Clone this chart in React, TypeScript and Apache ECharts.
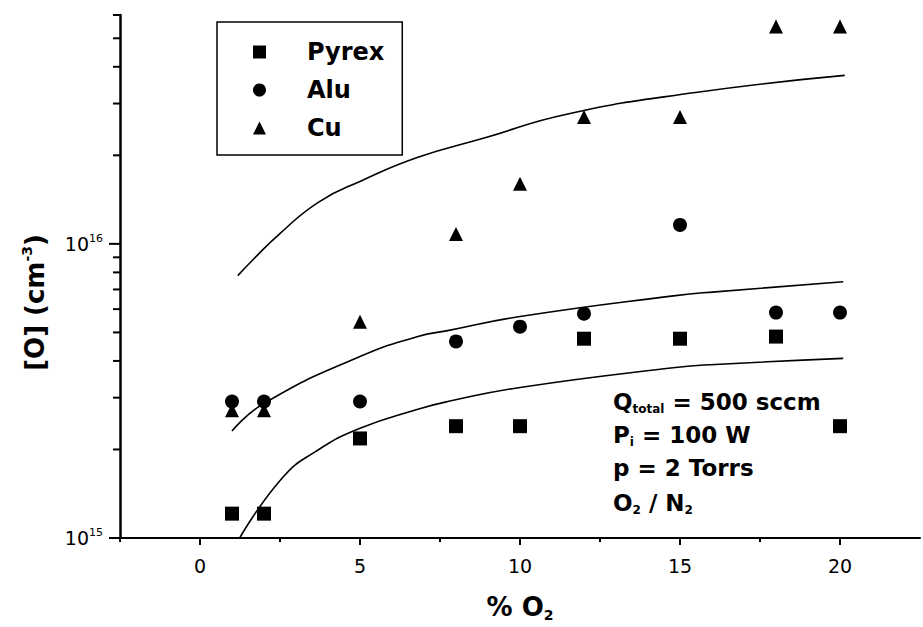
import React, { useEffect, useRef } from 'react';
import * as echarts from 'echarts';

// ---- data ----
const xValues = [1, 2, 5, 8, 10, 12, 15, 18, 20];
const pyrex = [1.21e15, 1.21e15, 2.18e15, 2.4e15, 2.4e15, 4.76e15, 4.76e15, 4.84e15, 2.4e15];
const alu = [2.91e15, 2.91e15, 2.91e15, 4.66e15, 5.23e15, 5.79e15, 1.16e16, 5.84e15, 5.84e15];
const cu = [2.72e15, 2.72e15, 5.44e15, 1.08e16, 1.6e16, 2.7e16, 2.7e16, 5.48e16, 5.48e16];

const fitCuX = [1.18, 1.64, 2.48, 3.72, 5.05, 6.81, 8.88, 11.46, 15.48, 20.15];
const fitCuY = [7.8e15, 8.8e15, 1.08e16, 1.39e16, 1.64e16, 1.97e16, 2.29e16, 2.76e16, 3.27e16, 3.74e16];
const fitAluX = [1.0, 2.0, 5.0, 6.81, 7.74, 10.0, 14.86, 16.1, 20.1];
const fitAluY = [2.31e15, 2.87e15, 4.14e15, 4.84e15, 5.07e15, 5.66e15, 6.67e15, 6.87e15, 7.43e15];
const fitPyrexX = [1.24, 2.57, 3.62, 5.0, 6.81, 7.74, 10.0, 14.86, 16.1, 20.1];
const fitPyrexY = [1.0e15, 1.6e15, 1.97e15, 2.36e15, 2.74e15, 2.91e15, 3.25e15, 3.8e15, 3.89e15, 4.08e15];

const xMajorTicks = [0, 5, 10, 15, 20];
const xMinorTicks = [-2.5, 2.5, 7.5, 12.5, 17.5];
const yMajorTicks = [1e15, 1e16];
const yMinorTicks = [2e15, 3e15, 4e15, 5e15, 6e15, 7e15, 8e15, 9e15, 2e16, 3e16, 4e16, 5e16, 6e16];

const X_MIN = -2.5;
const X_MAX = 22.5;
const Y_MIN = 1e15;
const Y_MAX = 6e16;

const FONT = 'DejaVu Sans';

const zip = (xs: number[], ys: number[]) => xs.map((x, i) => [x, ys[i]]);

export default function App() {
  const ref = useRef<HTMLDivElement>(null);

  useEffect(() => {
    if (!ref.current) return;
    const chart = echarts.init(ref.current, undefined, { renderer: 'svg' });

    const markerSeries = (name: string, symbol: string, ys: number[]) => ({
      name,
      type: 'scatter',
      symbol,
      symbolSize: 14,
      itemStyle: { color: '#000', opacity: 1 },
      data: zip(xValues, ys),
      z: 5,
    });

    const fitSeries = (name: string, xs: number[], ys: number[]) => ({
      name,
      type: 'line',
      data: zip(xs, ys),
      showSymbol: false,
      symbol: 'none',
      smooth: 0.5,
      lineStyle: { color: '#000', width: 1.6 },
      silent: true,
      z: 3,
    });

    const tickSeries = (data: number[][], size: number[], offset: number[]) => ({
      type: 'scatter',
      data,
      symbol: 'rect',
      symbolSize: size,
      symbolOffset: offset,
      itemStyle: { color: '#000', opacity: 1 },
      clip: false,
      silent: true,
      z: 6,
    });

    const richSub = {
      m: { fontFamily: FONT, fontSize: 23, fontWeight: 'bold', lineHeight: 26, color: '#000' },
      s: { fontFamily: FONT, fontSize: 12, fontWeight: 'bold', lineHeight: 12, verticalAlign: 'bottom', color: '#000' },
    };

    const option: any = {
      animation: false,
      backgroundColor: '#fff',
      grid: { left: 120, top: 15, width: 807, height: 525, containLabel: false },
      legend: {
        data: [
          { name: 'Pyrex', icon: 'rect' },
          { name: 'Alu', icon: 'circle' },
          { name: 'Cu', icon: 'triangle' },
        ],
        orient: 'vertical',
        left: 217,
        top: 22,
        itemWidth: 13,
        itemHeight: 13,
        itemGap: 14,
        padding: [18, 18, 15, 36],
        borderColor: '#000',
        borderWidth: 1.5,
        selectedMode: false,
        itemStyle: { opacity: 1 },
        textStyle: {
          fontFamily: FONT,
          fontSize: 24,
          fontWeight: 'bold',
          color: '#000',
          lineHeight: 24,
          padding: [0, 0, 0, 36],
        },
      },
      xAxis: {
        type: 'value',
        min: X_MIN,
        max: X_MAX,
        interval: 2.5,
        splitLine: { show: false },
        axisLine: { onZero: false, lineStyle: { color: '#000', width: 2 } },
        axisTick: { show: false },
        axisLabel: {
          margin: 18,
          fontFamily: FONT,
          fontSize: 19,
          color: '#000',
          formatter: (v: number) => (Math.abs(v % 5) < 1e-9 ? String(v) : ''),
        },
        name: '{m|% O}{s|2}',
        nameLocation: 'middle',
        nameGap: 54,
        nameTextStyle: {
          rich: {
            m: { fontFamily: FONT, fontSize: 26, fontWeight: 'bold', lineHeight: 30, color: '#000' },
            s: { fontFamily: FONT, fontSize: 14, fontWeight: 'bold', lineHeight: 14, verticalAlign: 'bottom', color: '#000' },
          },
        },
      },
      yAxis: {
        type: 'log',
        logBase: 10,
        min: Y_MIN,
        max: Y_MAX,
        splitLine: { show: false },
        axisLine: { onZero: false, lineStyle: { color: '#000', width: 2.5 } },
        axisTick: { show: false },
        axisLabel: {
          margin: 17,
          formatter: (v: number) => {
            const e = Math.log10(v);
            if (Math.abs(e - Math.round(e)) > 1e-6) return '';
            return '{b|10}{p|' + Math.round(e) + '}';
          },
          rich: {
            b: { fontFamily: FONT, fontSize: 19, color: '#000', lineHeight: 22 },
            p: { fontFamily: FONT, fontSize: 11, color: '#000', lineHeight: 11, verticalAlign: 'top' },
          },
        },
        name: '{m|[O] (cm}{p|-3}{m|)}',
        nameLocation: 'middle',
        nameGap: 70,
        nameRotate: 90,
        nameTextStyle: {
          padding: [0, 52, 0, 0],
          rich: {
            m: { fontFamily: FONT, fontSize: 26, fontWeight: 'bold', lineHeight: 30, color: '#000' },
            p: { fontFamily: FONT, fontSize: 14, fontWeight: 'bold', lineHeight: 14, verticalAlign: 'top', color: '#000' },
          },
        },
      },
      graphic: [
        { type: 'text', x: 613, y: 402, style: { text: '{m|Q}{s|total}{m| = 500 sccm}', rich: richSub, verticalAlign: 'middle' } },
        { type: 'text', x: 613, y: 435, style: { text: '{m|P}{s|i}{m| = 100 W}', rich: richSub, verticalAlign: 'middle' } },
        { type: 'text', x: 613, y: 468, style: { text: '{m|p = 2 Torrs}', rich: richSub, verticalAlign: 'middle' } },
        { type: 'text', x: 613, y: 503, style: { text: '{m|O}{s|2}{m| / N}{s|2}', rich: richSub, verticalAlign: 'middle' } },
      ],
      series: [
        markerSeries('Pyrex', 'rect', pyrex),
        markerSeries('Alu', 'circle', alu),
        markerSeries('Cu', 'triangle', cu),
        fitSeries('Cu fit', fitCuX, fitCuY),
        fitSeries('Alu fit', fitAluX, fitAluY),
        fitSeries('Pyrex fit', fitPyrexX, fitPyrexY),
        tickSeries(xMajorTicks.map((x) => [x, Y_MIN]), [2, 7], [0, 3.5]),
        tickSeries(xMinorTicks.map((x) => [x, Y_MIN]), [2, 4], [0, 2]),
        tickSeries(yMajorTicks.map((y) => [X_MIN, y]), [11, 2], [-5.5, 0]),
        tickSeries(yMinorTicks.map((y) => [X_MIN, y]), [7, 2], [-3.5, 0]),
      ],
    };

    chart.setOption(option);
    return () => chart.dispose();
  }, []);

  return (
    <div
      ref={ref}
      style={{ position: 'absolute', left: 0, top: 0, width: 923, height: 627, background: '#fff' }}
    />
  );
}
